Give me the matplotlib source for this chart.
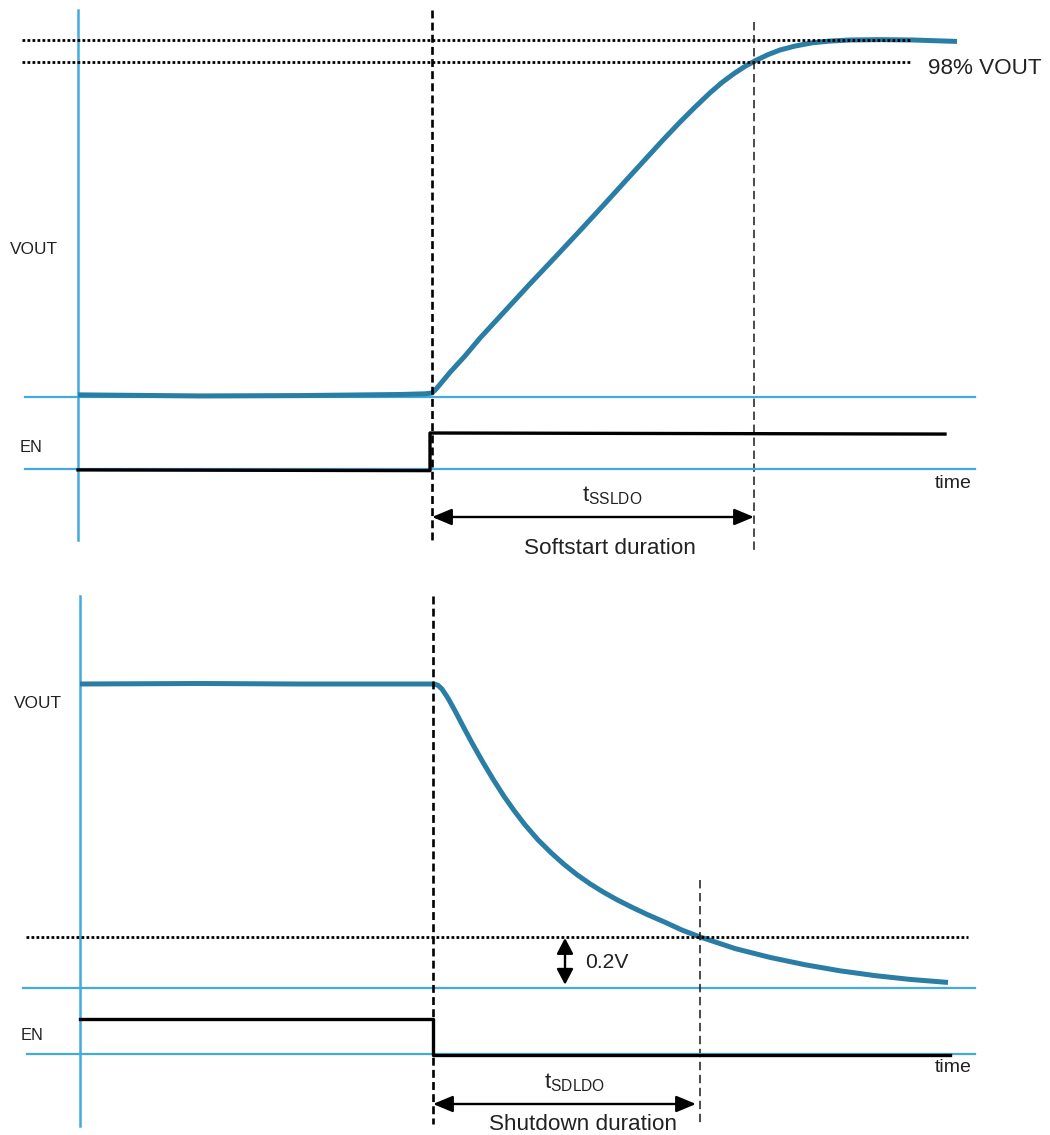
import matplotlib
matplotlib.use("Agg")
import matplotlib.pyplot as plt
from matplotlib.transforms import blended_transform_factory as blend

# ---------------- data ----------------
# Soft-start (top): time in diagram units, VOUT as fraction of nominal
ss_t = [0.00, 1.22, 2.22, 3.22, 3.47, 3.54, 3.58, 3.64, 3.72, 3.87, 4.02, 4.27,
        4.52, 4.77, 5.02, 5.27, 5.52, 5.85, 6.02, 6.17, 6.32, 6.44, 6.56, 6.67,
        6.78, 6.90, 7.02, 7.17, 7.34, 7.52, 7.72, 8.02, 8.35, 8.79]
ss_v = [0.006, 0.003, 0.004, 0.007, 0.009, 0.011, 0.022, 0.042, 0.069, 0.115,
        0.165, 0.241, 0.317, 0.391, 0.466, 0.542, 0.619, 0.720, 0.770, 0.812,
        0.852, 0.881, 0.906, 0.926, 0.943, 0.959, 0.972, 0.983, 0.992, 0.997,
        1.000, 1.001, 1.000, 0.996]
ss_en_t = [0.0, 3.52, 3.52, 8.67]
ss_en = [-0.04, -0.06, 1.0, 0.97]
ss_levels = [1.0, 0.938]          # VOUT level and the 98% VOUT marker as drawn
ss_start, ss_end = 3.54, 6.76

# Shutdown (bottom): VOUT in volts
sd_t = [0.00, 1.20, 2.20, 3.20, 3.50, 3.54, 3.58, 3.62, 3.68, 3.75, 3.82, 3.92,
        4.03, 4.13, 4.24, 4.34, 4.45, 4.58, 4.71, 4.84, 4.97, 5.10, 5.23, 5.37,
        5.50, 5.67, 5.85, 6.02, 6.20, 6.55, 6.90, 7.25, 7.60, 7.95, 8.30, 8.68]
sd_v = [1.200, 1.202, 1.200, 1.200, 1.200, 1.200, 1.195, 1.180, 1.144, 1.094,
        1.041, 0.967, 0.890, 0.824, 0.756, 0.700, 0.643, 0.584, 0.533, 0.487,
        0.446, 0.410, 0.378, 0.347, 0.321, 0.289, 0.258, 0.227, 0.200, 0.154,
        0.119, 0.090, 0.066, 0.047, 0.032, 0.020]
sd_en_t = [0.0, 3.53, 3.53, 8.70]
sd_en = [1.0, 1.0, -0.02, -0.02]
sd_threshold = 0.2
sd_start, sd_end = 3.53, 6.20

# ---------------- style ----------------
FONT = "Liberation Sans"
plt.rcParams["font.family"] = [FONT, "DejaVu Sans"]
plt.rcParams["mathtext.fontset"] = "custom"
plt.rcParams["mathtext.rm"] = FONT
plt.rcParams["mathtext.it"] = FONT
plt.rcParams["mathtext.default"] = "regular"

AXIS_BLUE = "#44a9dc"
CURVE_BLUE = "#2a7ea6"
TXT = "#222222"

W, H = 1050, 1135
fig = plt.figure(figsize=(W / 100, H / 100), dpi=100)
fig.patch.set_facecolor("white")


def fy(p):
    return 1 - p / H


def panel_axes(x0_px, x_scale, v_a, p_a, v_b, p_b):
    ax = fig.add_axes([0, 0, 1, 1])
    ax.set_axis_off()
    ax.patch.set_alpha(0)
    ax.set_xlim(-x0_px / x_scale, (W - x0_px) / x_scale)
    s = (p_a - p_b) / (v_b - v_a)
    ax.set_ylim(v_a + (p_a - H) / s, v_a + p_a / s)
    return ax


ax1 = panel_axes(78, 100, 0, 397, 1, 40)       # top VOUT
ax1e = panel_axes(78, 100, 0, 468.5, 1, 433)   # top EN
ax2 = panel_axes(80, 100, 0, 987.5, 1.2, 684)  # bottom VOUT
ax2e = panel_axes(80, 100, 0, 1054, 1, 1019)   # bottom EN

b1 = blend(ax1.transData, fig.transFigure)
b2 = blend(ax2.transData, fig.transFigure)

dotted = dict(color="black", lw=2.0, linestyle=(0, (1, 0.8)), dash_capstyle="butt")
thick_dash = dict(color="black", lw=1.9, linestyle=(0, (3.0, 1.6)))
thin_dash = dict(color="#1a1a1a", lw=1.1, linestyle=(0, (5.5, 3.0)))
arrow_h = dict(arrowstyle="<|-|>,head_length=1.2,head_width=0.5", lw=1.7,
               color="black", shrinkA=0, shrinkB=0, mutation_scale=10)

# ================= top panel =================
ax1.plot([0, 0], [fy(10), fy(540)], transform=b1, color=AXIS_BLUE, lw=1.8, zorder=1)
ax1.plot([-0.53, 8.97], [0, 0], color=AXIS_BLUE, lw=1.6, zorder=1)
ax1e.plot([-0.53, 8.97], [0, 0], color=AXIS_BLUE, lw=1.6, zorder=1)

ax1.plot(ss_t, ss_v, color=CURVE_BLUE, lw=3.6, solid_capstyle="butt",
         solid_joinstyle="round", zorder=3)
ax1e.plot(ss_en_t, ss_en, color="black", lw=2.4, zorder=3)

for lv in ss_levels:
    ax1.plot([-0.56, 8.32], [lv, lv], zorder=4, **dotted)

ax1.plot([ss_start, ss_start], [fy(10), fy(540)], transform=b1, zorder=5, **thick_dash)
ax1.plot([ss_end, ss_end], [fy(22), fy(550)], transform=b1, zorder=5, **thin_dash)

ax1.annotate("", xy=(ss_end, fy(517)), xytext=(ss_start, fy(517)),
             xycoords=b1, textcoords=b1, arrowprops=arrow_h, zorder=6)

fig.text(10 / W, fy(250), "VOUT", ha="left", va="center", fontsize=12.4, color=TXT)
fig.text(20 / W, fy(448), "EN", ha="left", va="center", fontsize=11.8, color=TXT)
fig.text(928 / W, fy(68), "98% VOUT", ha="left", va="center", fontsize=16.2, color=TXT)
fig.text(972 / W, fy(483), "time", ha="right", va="center", fontsize=14, color=TXT)
fig.text(612 / W, fy(496), r"$\mathrm{t}_{\mathrm{SSLDO}}$", ha="center", va="center",
         fontsize=16, color=TXT)
fig.text(610 / W, fy(548), "Softstart duration", ha="center", va="center",
         fontsize=16.2, color=TXT)

# ================= bottom panel =================
ax2.plot([0, 0], [fy(596), fy(1126)], transform=b2, color=AXIS_BLUE, lw=1.8, zorder=1)
ax2.plot([-0.57, 8.95], [0, 0], color=AXIS_BLUE, lw=1.6, zorder=1)
ax2e.plot([-0.53, 8.95], [0, 0], color=AXIS_BLUE, lw=1.6, zorder=1)

ax2.plot(sd_t, sd_v, color=CURVE_BLUE, lw=3.6, solid_capstyle="butt",
         solid_joinstyle="round", zorder=3)
ax2e.plot(sd_en_t, sd_en, color="black", lw=2.4, zorder=3)

ax2.plot([-0.54, 8.88], [sd_threshold, sd_threshold], zorder=4, **dotted)

ax2.plot([sd_start, sd_start], [fy(596), fy(1124)], transform=b2, zorder=5, **thick_dash)
ax2.plot([sd_end, sd_end], [fy(880), fy(1123)], transform=b2, zorder=5, **thin_dash)

ax2.annotate("", xy=(sd_end - 0.04, fy(1104)), xytext=(sd_start, fy(1104)),
             xycoords=b2, textcoords=b2, arrowprops=arrow_h, zorder=6)

arrow_v = dict(arrowstyle="<|-|>,head_length=0.95,head_width=0.5", lw=1.7,
               color="black", shrinkA=0.8, shrinkB=2.0, mutation_scale=10)
ax2.annotate("", xy=(4.85, 0.0), xytext=(4.85, sd_threshold),
             arrowprops=arrow_v, zorder=6)

fig.text(14 / W, fy(703), "VOUT", ha="left", va="center", fontsize=12.4, color=TXT)
fig.text(21 / W, fy(1036), "EN", ha="left", va="center", fontsize=11.8, color=TXT)
fig.text(585 / W, fy(962), "0.2V", ha="left", va="center", fontsize=15.2, color=TXT)
fig.text(972 / W, fy(1068), "time", ha="right", va="center", fontsize=14, color=TXT)
fig.text(575 / W, fy(1083), r"$\mathrm{t}_{\mathrm{SDLDO}}$", ha="center", va="center",
         fontsize=16, color=TXT)
fig.text(583 / W, fy(1125), "Shutdown duration", ha="center", va="center",
         fontsize=16.2, color=TXT)

fig.savefig("out.png", dpi=100, facecolor="white")
